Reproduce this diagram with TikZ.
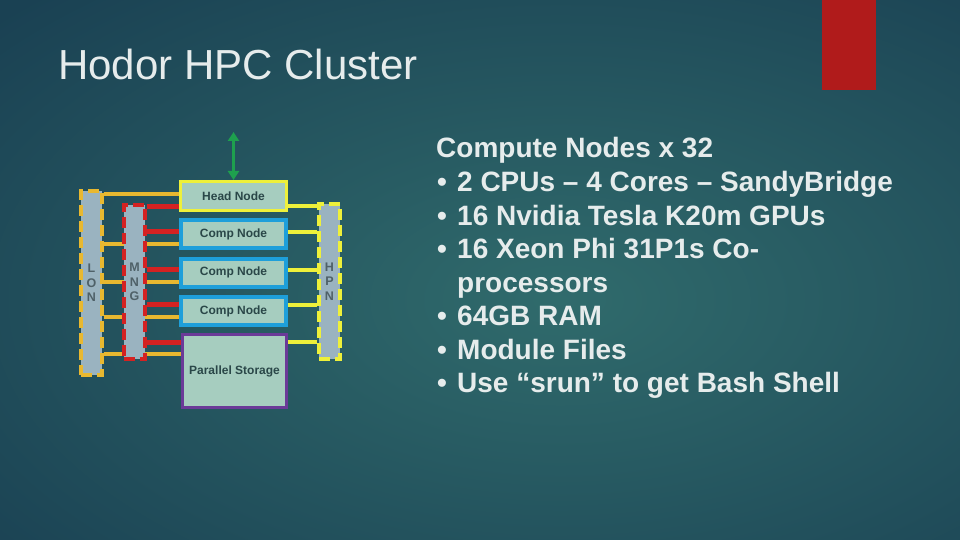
\documentclass[tikz,border=0pt]{standalone}
\usepackage{fontspec}
\setmainfont{Liberation Sans}
\usetikzlibrary{arrows.meta,backgrounds}
\definecolor{bgdark}{HTML}{1A4153}
\definecolor{bglight}{HTML}{306B6C}
\definecolor{boxfill}{HTML}{A6CDBF}
\definecolor{barfill}{HTML}{9AB3C0}
\definecolor{lonorange}{HTML}{E8B830}
\definecolor{mngred}{HTML}{D42222}
\definecolor{hpnyellow}{HTML}{EEF03A}
\definecolor{compblue}{HTML}{1E9FDA}
\definecolor{storepurple}{HTML}{6B3A98}
\definecolor{arrowgreen}{HTML}{1EA04E}
\definecolor{accentred}{HTML}{B01B1B}
\definecolor{lighttext}{HTML}{E6ECEC}
\definecolor{boxtext}{HTML}{2A4748}
\definecolor{bartext}{HTML}{4F6168}
\newcommand{\wire}{4pt}
\newcommand{\redwire}{5pt}
\tikzset{
  box/.style={draw, fill=boxfill, text=boxtext, font=\fontsize{12}{14}\selectfont\bfseries,
    minimum width=105pt, minimum height=28pt, inner sep=0pt},
  headbox/.style={box, draw=hpnyellow, line width=3pt, minimum width=106pt, minimum height=29pt},
  compbox/.style={box, draw=compblue, line width=4pt},
  storebox/.style={box, draw=storepurple, line width=3pt, minimum width=104pt, minimum height=73pt},
  bar/.style={draw, fill=barfill, dash pattern=on 11pt off 5pt, line width=3.5pt,
    minimum width=21pt, inner sep=0pt, text=bartext, align=center,
    font=\fontsize{12.5}{14.5}\selectfont\bfseries},
  lonwire/.style={draw=lonorange, line width=\wire},
  mngwire/.style={draw=mngred, line width=\redwire},
  hpnwire/.style={draw=hpnyellow, line width=\wire},
  txt/.style={anchor=base west, inner sep=0pt, text=lighttext, font=\fontsize{28}{30}\selectfont\bfseries},
}

\begin{document}
\begin{tikzpicture}[x=1pt,y=-1pt]
\useasboundingbox (0,0) rectangle (960,540);
% backdrop
\begin{scope}[on background layer]
\clip (0,0) rectangle (960,540);
\shade[inner color=bglight, outer color=bgdark] (-200,-120) rectangle (1320,720);
\end{scope}
\fill[accentred] (822,0) rectangle (876,90);
\node[anchor=base west, inner sep=0pt, text=lighttext, font=\fontsize{42}{50}\selectfont] (title) at (58,80) {Hodor HPC Cluster};

% networks
\node[bar, draw=lonorange, minimum height=184pt] (lon) at (91.5,283) {L\\O\\N};
\node[bar, draw=mngred, minimum height=154pt] (mng) at (134.5,282) {M\\N\\G};
\node[bar, draw=hpnyellow, minimum height=155pt] (hpn) at (329.5,281.5) {H\\P\\N};

% nodes
\node[headbox] (head) at (233.5,196) {Head Node};
\node[compbox] (comp1) at (233.5,234) {Comp Node};
\node[compbox] (comp2) at (233.5,272.5) {Comp Node};
\node[compbox] (comp3) at (233.5,311) {Comp Node};
\node[storebox] (store) at (234.5,371) {Parallel Storage};
\coordinate (uplink) at (233.5,132);
\draw[arrowgreen, line width=2.5pt, {Triangle[length=9pt,width=11pt]}-{Triangle[length=9pt,width=11pt]}] (uplink) -- (head.north);

% wires
\begin{scope}[on background layer]
\draw[lonwire] ([yshift=2pt]head.west -| lon.east) -- ([yshift=2pt]head.west);
\draw[lonwire] ([yshift=-10pt]comp1.west -| lon.east) -- ([yshift=-10pt]comp1.west);
\draw[lonwire] ([yshift=-9pt]comp2.west -| lon.east) -- ([yshift=-9pt]comp2.west);
\draw[lonwire] ([yshift=-6pt]comp3.west -| lon.east) -- ([yshift=-6pt]comp3.west);
\draw[lonwire] ([yshift=-21pt]store.north west -| lon.east) -- ([yshift=-21pt]store.north west);
\draw[mngwire] ([yshift=-10pt]head.west -| mng.east) -- ([yshift=-10pt]head.west);
\draw[mngwire] ([yshift=3pt]comp1.west -| mng.east) -- ([yshift=3pt]comp1.west);
\draw[mngwire] ([yshift=3pt]comp2.west -| mng.east) -- ([yshift=3pt]comp2.west);
\draw[mngwire] ([yshift=7pt]comp3.west -| mng.east) -- ([yshift=7pt]comp3.west);
\draw[mngwire] ([yshift=-9pt]store.north west -| mng.east) -- ([yshift=-9pt]store.north west);
\draw[hpnwire] ([yshift=-10pt]head.east) -- ([yshift=-10pt]head.east -| hpn.west);
\draw[hpnwire] ([yshift=2pt]comp1.east) -- ([yshift=2pt]comp1.east -| hpn.west);
\draw[hpnwire] ([yshift=3pt]comp2.east) -- ([yshift=3pt]comp2.east -| hpn.west);
\draw[hpnwire] ([yshift=6pt]comp3.east) -- ([yshift=6pt]comp3.east -| hpn.west);
\draw[hpnwire] ([yshift=-9pt]store.north east) -- ([yshift=-9pt]store.north east -| hpn.west);
\end{scope}

% spec list
\node[txt] (spec) at (436,158) {Compute Nodes x 32};
\node[txt] (dot1) at (437,191.5) {•};
\node[txt] (cpu) at (457,191.5) {2 CPUs – 4 Cores – SandyBridge};
\node[txt] (dot2) at (437,225) {•};
\node[txt] (gpu) at (457,225) {16 Nvidia Tesla K20m GPUs};
\node[txt] (dot3) at (437,258.5) {•};
\node[txt] (phi) at (457,258.5) {16 Xeon Phi 31P1s Co-};
\node[txt] (phi2) at (457,292) {processors};
\node[txt] (dot4) at (437,325.5) {•};
\node[txt] (ram) at (457,325.5) {64GB RAM};
\node[txt] (dot5) at (437,359) {•};
\node[txt] (mod) at (457,359) {Module Files};
\node[txt] (dot6) at (437,392.5) {•};
\node[txt] (shell) at (457,392.5) {Use “srun” to get Bash Shell};
\end{tikzpicture}
\end{document}
